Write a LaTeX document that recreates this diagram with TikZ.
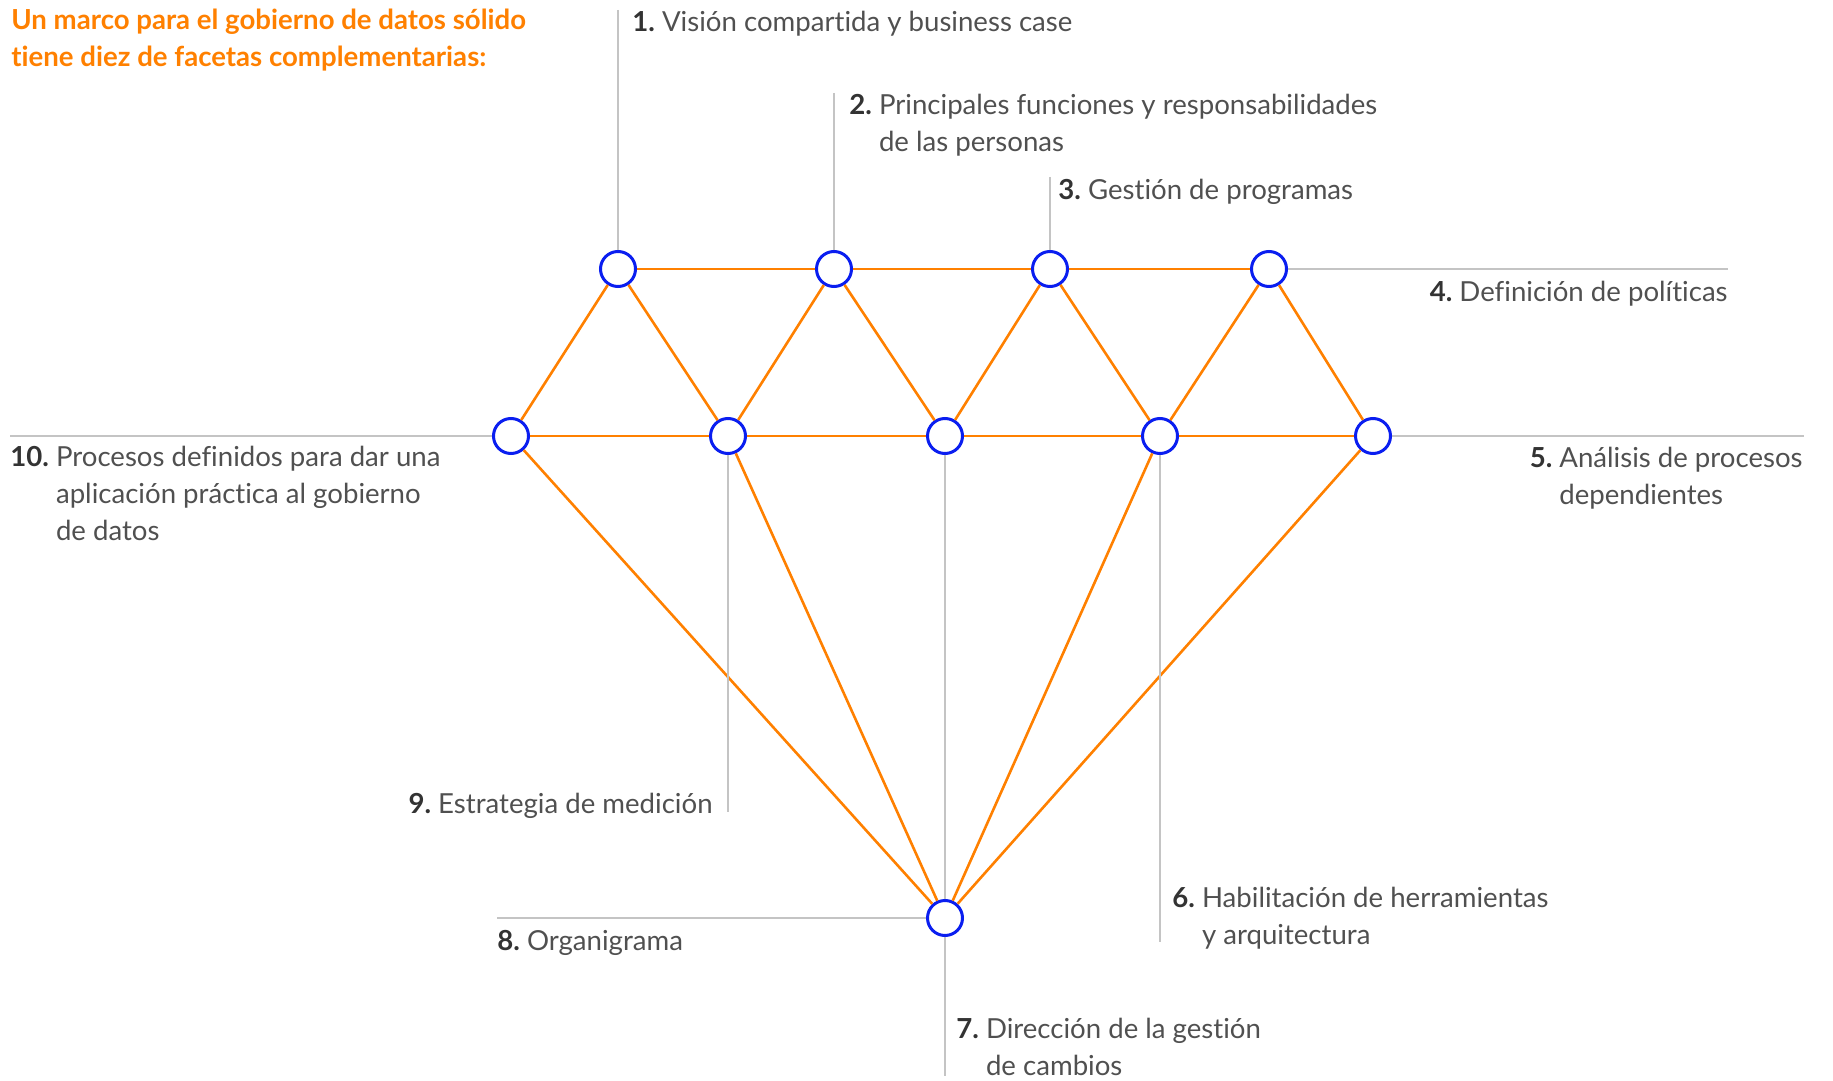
\documentclass[tikz,border=0pt]{standalone}
\usepackage{fontspec}
\setmainfont{Lato}[Ligatures=NoCommon]
\usetikzlibrary{positioning}

\definecolor{facetorange}{HTML}{FF8000}
\definecolor{facetblue}{HTML}{0A1EF0}
\definecolor{leadgray}{HTML}{C4C4C4}
\definecolor{labelgray}{HTML}{505050}
\definecolor{numgray}{HTML}{333333}

% number plus text with a hanging indent
\newcommand{\facetlabel}[2]{%
  \begin{tabular}[t]{@{}l@{\ }l@{}}%
    \textbf{\color{numgray}#1} &
    \begin{tabular}[t]{@{}l@{}}#2\end{tabular}%
  \end{tabular}}

\begin{document}
\begin{tikzpicture}[
    x=0.5pt, y=-0.5pt,
    facet/.style={
      circle,
      draw=facetblue,
      fill=white,
      line width=1.5pt,
      minimum size=17.5pt,
      inner sep=0pt
    },
    edge/.style={draw=facetorange, line width=1.3pt},
    lead/.style={draw=leadgray, line width=1.2pt},
    facettext/.style={
      inner sep=0pt,
      text=labelgray,
      font=\fontsize{13.8pt}{18.5pt}\selectfont
    },
    titletext/.style={
      inner sep=0pt,
      text=facetorange,
      font=\fontsize{13.8pt}{18.5pt}\selectfont\bfseries
    }
  ]
  \useasboundingbox (0,0) rectangle (1833,1081);

  % Title
  \node[titletext, anchor=base west] (title) at (11,30)
    {\begin{tabular}[t]{@{}l@{}}Un marco para el gobierno de datos sólido\\
     tiene diez de facetas complementarias:\end{tabular}};

  % Top row of facets
  \node[facet] (t1) at (618,269) {};
  \node[facet] (t2) at (834,269) {};
  \node[facet] (t3) at (1050,269) {};
  \node[facet] (t4) at (1269,269) {};

  % Middle row of facets
  \node[facet] (m1) at (511,436) {};
  \node[facet] (m2) at (728,436) {};
  \node[facet] (m3) at (945,436) {};
  \node[facet] (m4) at (1160,436) {};
  \node[facet] (m5) at (1373,436) {};

  % Tip
  \node[facet] (b) at (945,918) {};

  % Orange facets
  \draw[edge] (t1) -- (t2) -- (t3) -- (t4);
  \draw[edge] (m1) -- (m2) -- (m3) -- (m4) -- (m5);
  \draw[edge] (m1) -- (t1) -- (m2) -- (t2) -- (m3) -- (t3) -- (m4) -- (t4) -- (m5);
  \draw[edge] (m1) -- (b) -- (m5);
  \draw[edge] (m2) -- (b) -- (m4);

  % Lead line ends
  \coordinate (e1) at (618,10);
  \coordinate (e2) at (834,93);
  \coordinate (e3) at (1050,177);
  \coordinate (e4) at (1728,269);
  \coordinate (e5) at (1804,436);
  \coordinate (e6) at (1160,942);
  \coordinate (e7) at (945,1076);
  \coordinate (e8) at (497,918);
  \coordinate (e9) at (728,812);
  \coordinate (e10) at (10,436);

  % Gray lead lines
  \draw[lead] (e1) -- (t1);
  \draw[lead] (e2) -- (t2);
  \draw[lead] (e3) -- (t3);
  \draw[lead] (t4) -- (e4);
  \draw[lead] (m5) -- (e5);
  \draw[lead] (m4) -- (e6);
  \draw[lead] (m3) -- (b) -- (e7);
  \draw[lead] (e8) -- (b);
  \draw[lead] (m2) -- (e9);
  \draw[lead] (e10) -- (m1);

  % Labels
  \node[facettext, anchor=base west] (l1) at (632,32)
    {\facetlabel{1.}{Visión compartida y business case}};
  \node[facettext, anchor=base west] (l2) at (849,115)
    {\facetlabel{2.}{Principales funciones y responsabilidades\\de las personas}};
  \node[facettext, anchor=base west] (l3) at (1058,199)
    {\facetlabel{3.}{Gestión de programas}};
  \node[facettext, anchor=base east] (l4) at (1728,301)
    {\facetlabel{4.}{Definición de políticas}};
  \node[facettext, anchor=base east] (l5) at (1803,467)
    {\facetlabel{5.}{Análisis de procesos\\dependientes}};
  \node[facettext, anchor=base west] (l6) at (1172,907)
    {\facetlabel{6.}{Habilitación de herramientas\\y arquitectura}};
  \node[facettext, anchor=base west] (l7) at (956,1038)
    {\facetlabel{7.}{Dirección de la gestión\\de cambios}};
  \node[facettext, anchor=base west] (l8) at (497,950)
    {\facetlabel{8.}{Organigrama}};
  \node[facettext, anchor=base east] (l9) at (713,813)
    {\facetlabel{9.}{Estrategia de medición}};
  \node[facettext, anchor=base west] (l10) at (10,466)
    {\facetlabel{10.}{Procesos definidos para dar una\\aplicación práctica al gobierno\\de datos}};
\end{tikzpicture}
\end{document}
